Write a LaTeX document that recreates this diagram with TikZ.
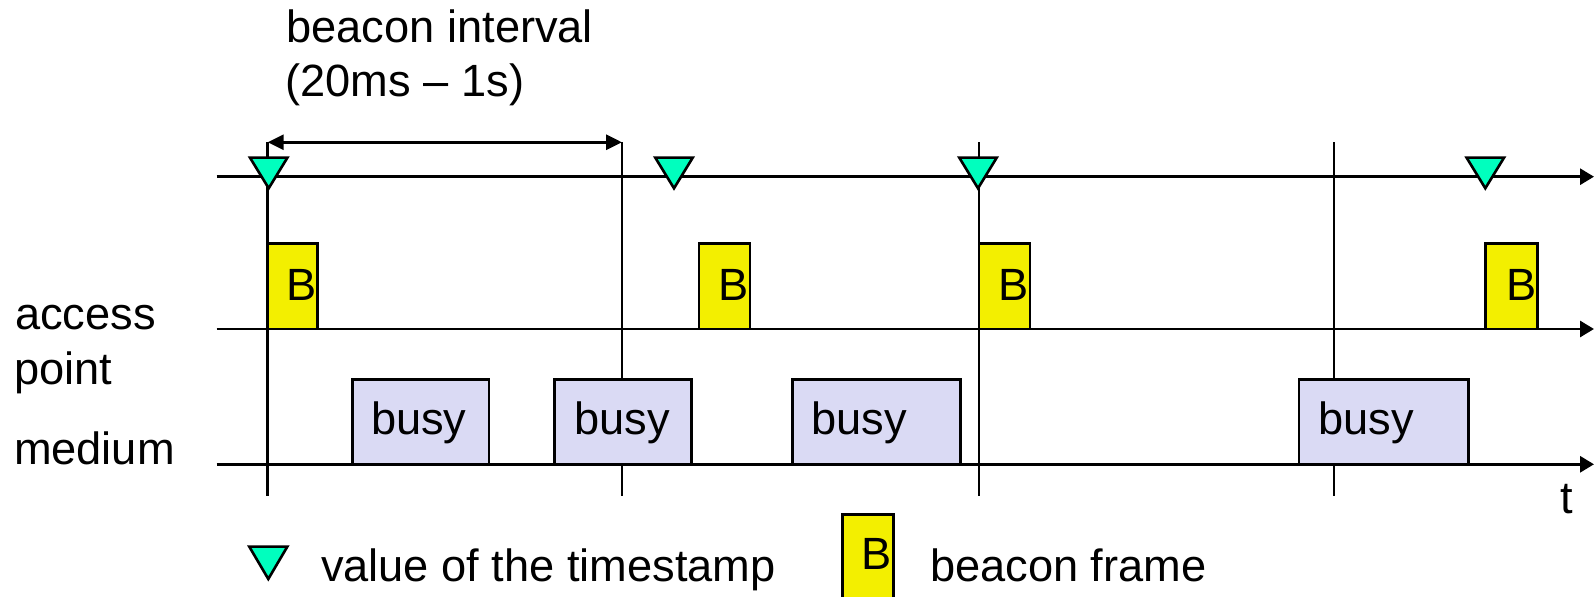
\documentclass[tikz,border=0pt]{standalone}
\usepackage{fontspec}
\setmainfont{Liberation Sans}
\usetikzlibrary{arrows.meta}
\definecolor{tsgreen}{RGB}{0,255,190}
\definecolor{byellow}{RGB}{243,239,0}
\definecolor{busyfill}{RGB}{218,218,244}
\tikzset{
  lbl/.style={inner sep=0pt, outer sep=0pt, font=\fontsize{22.6}{26}\selectfont, anchor=base west},
  axisline/.style={line width=1.45pt, -{Triangle[length=7pt,width=8pt]}},
  vline/.style={line width=1.45pt},
  dimline/.style={line width=1.45pt, {Triangle[length=8pt,width=7.5pt]}-{Triangle[length=8pt,width=7.5pt]}},
  tstamp/.style={fill=tsgreen, draw=black, line width=1.3pt, line join=miter},
  bbox/.style={fill=byellow, draw=black, line width=1.25pt, inner sep=0pt, outer sep=0pt, anchor=north west, rectangle},
  busybox/.style={fill=busyfill, draw=black, line width=1.25pt, inner sep=0pt, outer sep=0pt, anchor=north west, rectangle}
}
\begin{document}
\begin{tikzpicture}[x=0.5pt,y=-0.5pt]
\useasboundingbox (0,0) rectangle (1595,597);
% axis coordinates
\coordinate (t0) at (216.7,176.7);
\coordinate (t1) at (1594,176.7);
\coordinate (a0) at (216.7,329);
\coordinate (a1) at (1594,329);
\coordinate (m0) at (216.7,464.3);
\coordinate (m1) at (1594,464.3);
% vertical lines
\coordinate (v1t) at (267.7,142.3);
\coordinate (v1b) at (267.7,496.5);
\coordinate (v2t) at (622,142.3);
\coordinate (v2b) at (622,496.5);
\coordinate (v3t) at (979,142.3);
\coordinate (v3b) at (979,496.5);
\coordinate (v4t) at (1334,142.3);
\coordinate (v4b) at (1334,496.5);
\draw[vline] (v1t) -- (v1b);
\draw[vline] (v2t) -- (v2b);
\draw[vline] (v3t) -- (v3b);
\draw[vline] (v4t) -- (v4b);
% axes
\draw[axisline] (t0) -- (t1);
\draw[axisline] (a0) -- (a1);
\draw[axisline] (m0) -- (m1);
% beacon interval dimension
\draw[dimline] (v1t) -- (v2t);
% labels
\node[lbl] (bi1) at (286.5,42.7) {beacon interval};
\node[lbl] (bi2) at (285.5,96.7) {(20ms – 1s)};
\node[lbl] (acc) at (15,330) {access};
\node[lbl] (pnt) at (14,385) {point};
\node[lbl] (med) at (14,465) {medium};
\node[lbl] (tlab) at (1560.5,513.5) {t};
% timestamps
\filldraw[tstamp] (250,157.7) -- (287.4,157.7) -- (268.7,188.3) -- cycle;
\filldraw[tstamp] (655.3,157.7) -- (692.7,157.7) -- (674,188.3) -- cycle;
\filldraw[tstamp] (959.3,157.7) -- (996.7,157.7) -- (978,188.3) -- cycle;
\filldraw[tstamp] (1466.6,157.7) -- (1504,157.7) -- (1485.3,188.3) -- cycle;
% beacon frames
\node[bbox, minimum width=25pt, minimum height=42.75pt] (b1) at (267.7,243.5) {};
\node[bbox, minimum width=25.5pt, minimum height=42.75pt] (b2) at (699,243.5) {};
\node[bbox, minimum width=25.5pt, minimum height=42.75pt] (b3) at (979,243.5) {};
\node[bbox, minimum width=25.8pt, minimum height=42.75pt] (b4) at (1485.7,243.5) {};
\node[lbl, anchor=base east] (b1t) at ([xshift=-0.5pt]b1.east |- 0,301) {B};
\node[lbl, anchor=base east] (b2t) at ([xshift=-0.5pt]b2.east |- 0,301) {B};
\node[lbl, anchor=base east] (b3t) at ([xshift=-0.5pt]b3.east |- 0,301) {B};
\node[lbl, anchor=base east] (b4t) at ([xshift=-0.5pt]b4.east |- 0,301) {B};
% busy
\node[busybox, minimum width=68.35pt, minimum height=42.5pt] (u1) at (352.3,379.3) {};
\node[busybox, minimum width=68.7pt, minimum height=42.5pt] (u2) at (554.3,379.3) {};
\node[busybox, minimum width=84.2pt, minimum height=42.5pt] (u3) at (792.3,379.3) {};
\node[busybox, minimum width=84.65pt, minimum height=42.5pt] (u4) at (1299,379.3) {};
\node[lbl] (u1t) at (371,435) {busy};
\node[lbl] (u2t) at (574.5,435) {busy};
\node[lbl] (u3t) at (811.5,435) {busy};
\node[lbl] (u4t) at (1318.5,435) {busy};
% legend
\filldraw[tstamp] (249.3,546.7) -- (287.3,546.7) -- (268.3,579) -- cycle;
\node[lbl] (lg1) at (321,581.7) {value of the timestamp};
\fill[byellow] (842.7,514.3) rectangle (893.3,600);
\draw[line width=1.25pt] (842.7,600) -- (842.7,514.3) -- (893.3,514.3) -- (893.3,600);
\node[lbl, anchor=base east] (lgbt) at (891.5,570) {B};
\node[lbl] (lg2) at (930,581.7) {beacon frame};
\end{tikzpicture}
\end{document}
